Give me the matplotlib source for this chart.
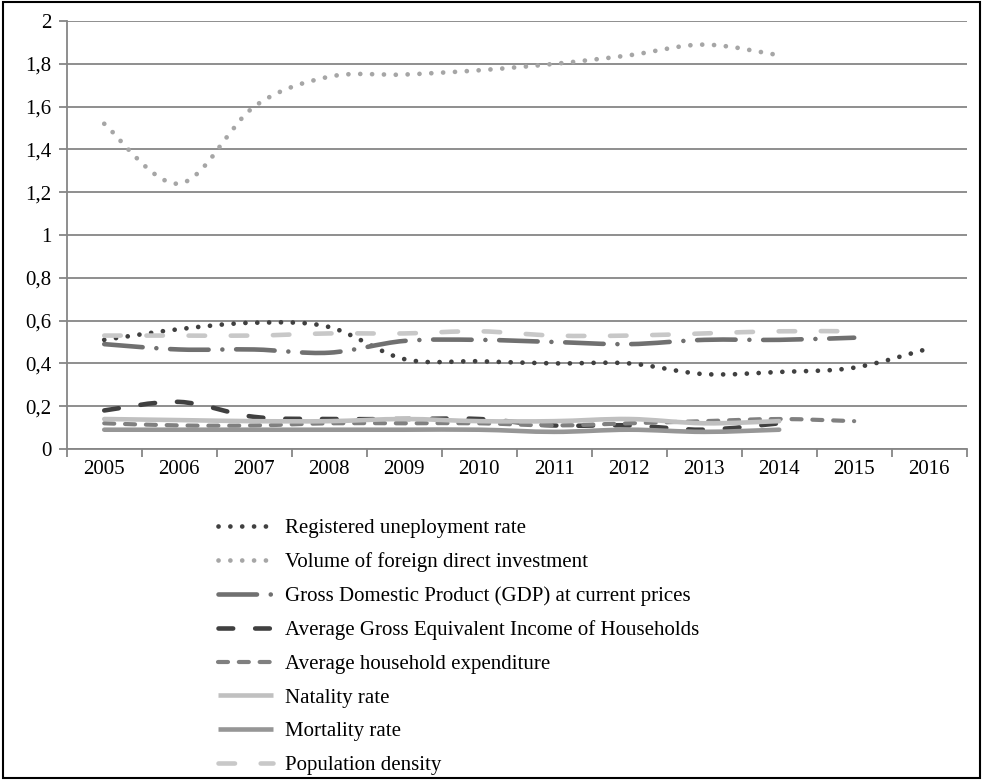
import numpy as np
import matplotlib
matplotlib.use("Agg")
import matplotlib.pyplot as plt
from matplotlib.path import Path
from matplotlib.patches import PathPatch, Rectangle
from matplotlib.lines import Line2D

plt.rcParams['font.family'] = ['Liberation Serif', 'DejaVu Serif']

years = ['2005', '2006', '2007', '2008', '2009', '2010',
         '2011', '2012', '2013', '2014', '2015', '2016']

unemployment = [0.51, 0.56, 0.59, 0.57, 0.42, 0.41, 0.40, 0.40, 0.35, 0.36, 0.38, 0.47]
fdi = [1.52, 1.24, 1.60, 1.74, 1.75, 1.77, 1.80, 1.84, 1.89, 1.84]
gdp = [0.49, 0.465, 0.465, 0.45, 0.505, 0.51, 0.50, 0.49, 0.51, 0.51, 0.52]
income = [0.18, 0.22, 0.15, 0.14, 0.14, 0.14, 0.11, 0.11, 0.09, 0.12]
expenditure = [0.12, 0.11, 0.11, 0.12, 0.12, 0.12, 0.11, 0.12, 0.13, 0.14, 0.13]
natality = [0.14, 0.135, 0.13, 0.13, 0.14, 0.13, 0.13, 0.14, 0.12, 0.13]
mortality = [0.09, 0.09, 0.09, 0.09, 0.09, 0.09, 0.08, 0.09, 0.08, 0.09]
density = [0.53, 0.53, 0.53, 0.54, 0.54, 0.55, 0.53, 0.53, 0.54, 0.55, 0.55]

labels = ['Registered uneployment rate',
          'Volume of foreign direct investment',
          'Gross Domestic Product (GDP) at current prices',
          'Average Gross Equivalent Income of Households',
          'Average household expenditure',
          'Natality rate',
          'Mortality rate',
          'Population density']

series = [unemployment, fdi, gdp, income, expenditure, natality, mortality, density]

# (color, linewidth, dashes)
styles = [
    ('#404040', 3.4, (0.01, 2.5)),
    ('#a6a6a6', 3.4, (0.01, 2.5)),
    ('#707070', 3.3, (8.4, 3.0, 0.01, 3.0)),
    ('#404040', 3.3, (3.2, 4.8)),
    ('#808080', 3.0, (2.4, 2.6)),
    ('#c0c0c0', 3.3, None),
    ('#969696', 3.3, None),
    ('#c8c8c8', 3.3, (3.6, 5.6)),
]


def smooth_path(xs, ys):
    # excel-like smoothed line: catmull-rom turned into bezier segments
    pts = np.column_stack([xs, ys]).astype(float)
    n = len(pts)
    verts = [pts[0]]
    codes = [Path.MOVETO]
    for i in range(n - 1):
        p0 = pts[i - 1] if i > 0 else pts[i]
        p1 = pts[i]
        p2 = pts[i + 1]
        p3 = pts[i + 2] if i + 2 < n else pts[i + 1]
        c1 = p1 + (p2 - p0) / 6.0
        c2 = p2 - (p3 - p1) / 6.0
        verts += [c1, c2, p2]
        codes += [Path.CURVE4] * 3
    return Path(verts, codes)


fig = plt.figure(figsize=(9.83, 7.8), dpi=100)
ax = fig.add_axes([0.0679, 0.4244, 0.9155, 0.5486])

handles = []
for vals, (col, lw, dsh), lab in zip(series, styles, labels):
    xs = np.arange(len(vals))
    patch = PathPatch(smooth_path(xs, vals), fill=False, edgecolor=col,
                      linewidth=lw, capstyle='round', joinstyle='round')
    if dsh is not None:
        patch.set_linestyle((0, dsh))
    ax.add_patch(patch)
    h = Line2D([], [], color=col, linewidth=lw, dash_capstyle='round',
               solid_capstyle='butt')
    if dsh is not None:
        h.set_linestyle((0, dsh))
    handles.append(h)

ax.set_xlim(-0.5, len(years) - 0.5)
ax.set_ylim(0, 2)
ax.set_yticks(np.arange(0, 2.01, 0.2))
ax.set_yticklabels(['0'] + [('%.1f' % v).replace('.', ',').replace(',0', '')
                            for v in np.arange(0.2, 2.01, 0.2)])
ax.set_xticks(np.arange(len(years)))
ax.set_xticklabels(years)
ax.set_xticks(np.arange(-0.5, len(years), 1.0), minor=True)
ax.tick_params(axis='x', which='major', length=0, pad=8, labelsize=15)
ax.tick_params(axis='x', which='minor', length=6, width=1.3, color='#868686')
ax.tick_params(axis='y', length=6, width=1.3, color='#868686', pad=5, labelsize=15)
ax.grid(axis='y', color='#868686', linewidth=1.3)
ax.set_axisbelow(True)
for s in ['top', 'right']:
    ax.spines[s].set_visible(False)
for s in ['left', 'bottom']:
    ax.spines[s].set_color('#868686')
    ax.spines[s].set_linewidth(1.3)

fig.legend(handles, labels, loc='upper left', bbox_to_anchor=(0.213, 0.346),
           frameon=False, fontsize=15, handlelength=2.65, handletextpad=0.6,
           labelspacing=0.68, borderaxespad=0)

fig.patches.append(Rectangle((0.003, 0.003), 0.994, 0.994, transform=fig.transFigure,
                             fill=False, edgecolor='black', linewidth=1.5))

fig.savefig('out.png', dpi=100)
